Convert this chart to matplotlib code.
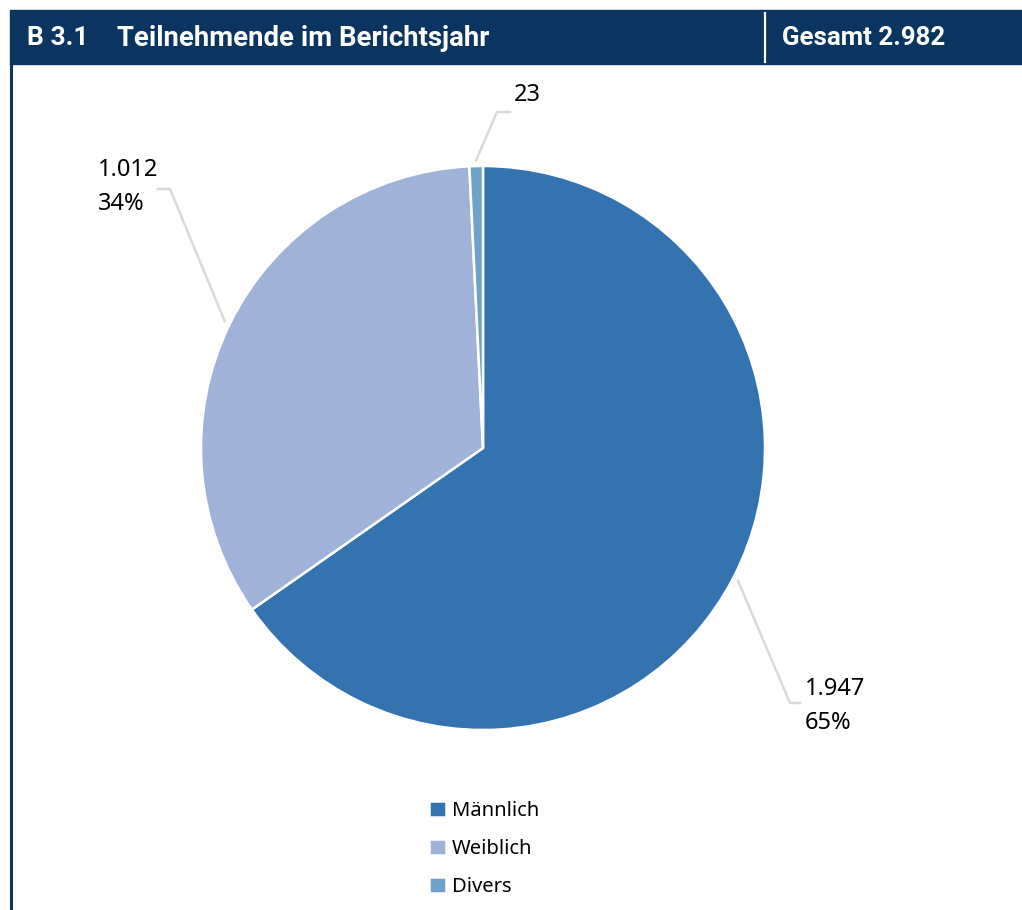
import numpy as np
import matplotlib.pyplot as plt
from matplotlib.patches import Rectangle

# Daten
kategorien = ['Männlich', 'Weiblich', 'Divers']
werte = [1947, 1012, 23]
farben = ['#3572b0', '#a1b2d9', '#6fa1cc']
gesamt = 2982
titel_nr = 'B 3.1'
titel = 'Teilnehmende im Berichtsjahr'

W, H = 1022, 910
dunkelblau = '#0b3461'
grau = '#d9d9d9'

fig = plt.figure(figsize=(W / 100, H / 100), dpi=100)
ax = fig.add_axes([0, 0, 1, 1])
ax.set_xlim(0, W)
ax.set_ylim(0, H)
ax.axis('off')

def Y(y):
    # Bildkoordinate (oben=0) -> Daten
    return H - y

# Kopfzeile
ax.add_patch(Rectangle((10, Y(64)), W - 10, 54, color=dunkelblau, zorder=1))
ax.plot([10.5, 10.5], [Y(64), 0], color=dunkelblau, lw=2.2, solid_capstyle='butt')
ax.plot([765, 765], [Y(13), Y(62)], color='white', lw=1.6)
kopf = dict(color='white', fontsize=19, fontweight='bold', family='Roboto', va='center', zorder=3)
ax.text(27, Y(38), titel_nr, **kopf)
ax.text(117, Y(38), titel, **dict(kopf, fontsize=19.8))
ax.text(782, Y(38), 'Gesamt ' + f'{gesamt:,}'.replace(',', '.'), **dict(kopf, fontsize=18.6))

# Kreisdiagramm
cx, cy, R = 483, Y(448), 282
wedges, _ = ax.pie(werte, colors=farben, startangle=90, counterclock=False,
                   center=(cx, cy), radius=R, frame=True,
                   wedgeprops=dict(edgecolor='white', linewidth=1.8))
ax.set_xlim(0, W)
ax.set_ylim(0, H)
ax.axis('off')

# Beschriftungen mit Führungslinien
knick = [(790, 703, 800), (170, 189, 158), (497, 112, 510)]
anteile = np.array(werte) / sum(werte) * 100
for i, w in enumerate(wedges):
    ang = np.deg2rad((w.theta1 + w.theta2) / 2)
    x0 = cx + 1.02 * R * np.cos(ang)
    y0 = cy + 1.02 * R * np.sin(ang)
    kx, ky, ex = knick[i]
    ax.plot([x0, kx, ex], [y0, Y(ky), Y(ky)], color=grau, lw=1.8, zorder=2)
    zahl = f'{werte[i]:,}'.replace(',', '.')
    if i == 0:
        ax.text(ex + 5, Y(ky + 3), zahl + '\n' + f'{anteile[i]:.0f}%', ha='left', va='center',
                fontsize=17, family='Noto Sans', linespacing=1.55)
    elif i == 1:
        ax.text(ex, Y(ky - 2), zahl + '\n' + f'{anteile[i]:.0f}%', ha='right', va='center',
                multialignment='left', fontsize=17, family='Noto Sans', linespacing=1.55)
    else:
        ax.text(ex + 4, Y(ky - 5), zahl, ha='left', va='bottom',
                fontsize=17, family='Noto Sans')

leg = ax.legend(wedges, kategorien, loc='upper left', bbox_to_anchor=(421 / W, 1 - 793 / H),
                frameon=False, handlelength=0.85, handleheight=0.85,
                handletextpad=0.3, labelspacing=0.88, borderaxespad=0,
                prop=dict(family='Noto Sans', size=14.5))

fig.savefig('out.png', dpi=100)
